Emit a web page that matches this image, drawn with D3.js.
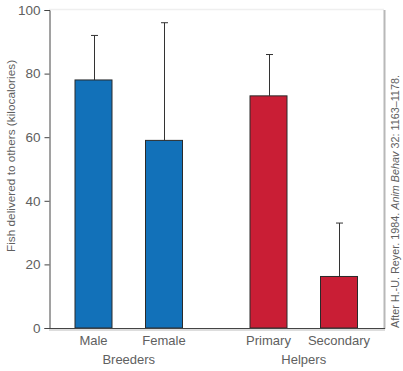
<!DOCTYPE html>
<html>
<head>
<meta charset="utf-8">
<script src="https://cdn.jsdelivr.net/npm/d3@7"></script>
<style>
  body { margin: 0; background: #fff; }
  text { font-family: "Liberation Sans", Arial, sans-serif; }
</style>
</head>
<body>
<div id="chart"></div>
<script>
const categories = ["Male", "Female", "Primary", "Secondary"];
const groups = ["Breeders", "Breeders", "Helpers", "Helpers"];
const values = [78, 59, 73, 16.2];
const errorTops = [92, 96, 86, 33];
const yTicks = [0, 20, 40, 60, 80, 100];

const width = 403;
const height = 371;
const margin = { top: 10, right: 19, bottom: 43, left: 49 };

const svg = d3.select("#chart")
    .append("svg")
    .attr("width", width)
    .attr("height", height);

const yScale = d3.scaleLinear()
    .domain([0, 100])
    .range([328, 10]);

const groupNames = Array.from(new Set(groups));

// group centres, then each bar offset within its group
const xGroup = d3.scalePoint()
    .domain(groupNames)
    .range([128.75, 303.75]);

const xInner = d3.scalePoint()
    .domain([0, 1])
    .range([-35.25, 35.25]);

const barX = (d, i) => xGroup(groups[i]) + xInner(i % 2);

const barWidth = 37;
const colors = { Breeders: "#1271b9", Helpers: "#c91e35" };
const textColor = "#606060";

// faint frame on top and right
svg.append("line")
    .attr("x1", margin.left).attr("x2", 384)
    .attr("y1", 9.5).attr("y2", 9.5)
    .attr("stroke", "#efefef").attr("stroke-width", 1.5);

svg.append("line")
    .attr("x1", 384.5).attr("x2", 384.5)
    .attr("y1", 10).attr("y2", 329)
    .attr("stroke", "#b8b8b8").attr("stroke-width", 2);

// error bars (behind bars)
svg.selectAll(".err")
    .data(categories)
    .enter()
    .append("g")
    .attr("class", "err")
    .each(function (d, i) {
        const g = d3.select(this);
        const cx = Math.round(barX(d, i)) + 0.5;
        g.append("line")
            .attr("x1", cx).attr("x2", cx)
            .attr("y1", yScale(values[i])).attr("y2", yScale(errorTops[i]))
            .attr("stroke", "#333").attr("stroke-width", 1);
        g.append("line")
            .attr("x1", cx - 3.5).attr("x2", cx + 3.5)
            .attr("y1", yScale(errorTops[i])).attr("y2", yScale(errorTops[i]))
            .attr("stroke", "#333").attr("stroke-width", 1);
    });

svg.selectAll(".bar")
    .data(categories)
    .enter()
    .append("rect")
    .attr("class", "bar")
    .attr("x", (d, i) => barX(d, i) - barWidth / 2)
    .attr("y", (d, i) => yScale(values[i]))
    .attr("width", barWidth)
    .attr("height", (d, i) => yScale(0) - yScale(values[i]))
    .attr("fill", (d, i) => colors[groups[i]])
    .attr("stroke", "#2a2a2a")
    .attr("stroke-width", 1);

// x axis line with soft shadow
svg.append("line")
    .attr("x1", margin.left).attr("x2", 385)
    .attr("y1", 328.5).attr("y2", 328.5)
    .attr("stroke", "#444").attr("stroke-width", 1);
svg.append("line")
    .attr("x1", margin.left).attr("x2", 385)
    .attr("y1", 330).attr("y2", 330)
    .attr("stroke", "#d2d2d2").attr("stroke-width", 1.5);

// y axis
const yAxis = svg.append("g")
    .attr("transform", `translate(${margin.left + 0.5},0)`)
    .call(d3.axisLeft(yScale).tickValues(yTicks).tickSize(5).tickPadding(4));
yAxis.select(".domain").attr("stroke", "#444");
yAxis.selectAll(".tick line").attr("stroke", "#444");
yAxis.selectAll(".tick text")
    .style("font-size", "13.5px")
    .style("fill", textColor);

svg.append("text")
    .attr("transform", "rotate(-90)")
    .attr("x", -156)
    .attr("y", 15)
    .style("text-anchor", "middle")
    .style("font-size", "11.8px")
    .style("fill", textColor)
    .text("Fish delivered to others (kilocalories)");

// category labels
svg.selectAll(".cat")
    .data(categories)
    .enter()
    .append("text")
    .attr("class", "cat")
    .attr("x", (d, i) => barX(d, i))
    .attr("y", 345)
    .style("text-anchor", "middle")
    .style("font-size", "13px")
    .style("fill", textColor)
    .text(d => d);

svg.selectAll(".grp")
    .data(groupNames)
    .enter()
    .append("text")
    .attr("class", "grp")
    .attr("x", g => xGroup(g))
    .attr("y", 364)
    .style("text-anchor", "middle")
    .style("font-size", "13px")
    .style("fill", textColor)
    .text(g => g);

// credit
const credit = svg.append("text")
    .attr("transform", "translate(399,328) rotate(-90)")
    .style("font-size", "10.8px")
    .style("fill", textColor);
credit.append("tspan").text("After H.-U. Reyer. 1984. ");
credit.append("tspan").style("font-style", "italic").text("Anim Behav");
credit.append("tspan").text(" 32: 1163–1178.");
</script>
</body>
</html>
